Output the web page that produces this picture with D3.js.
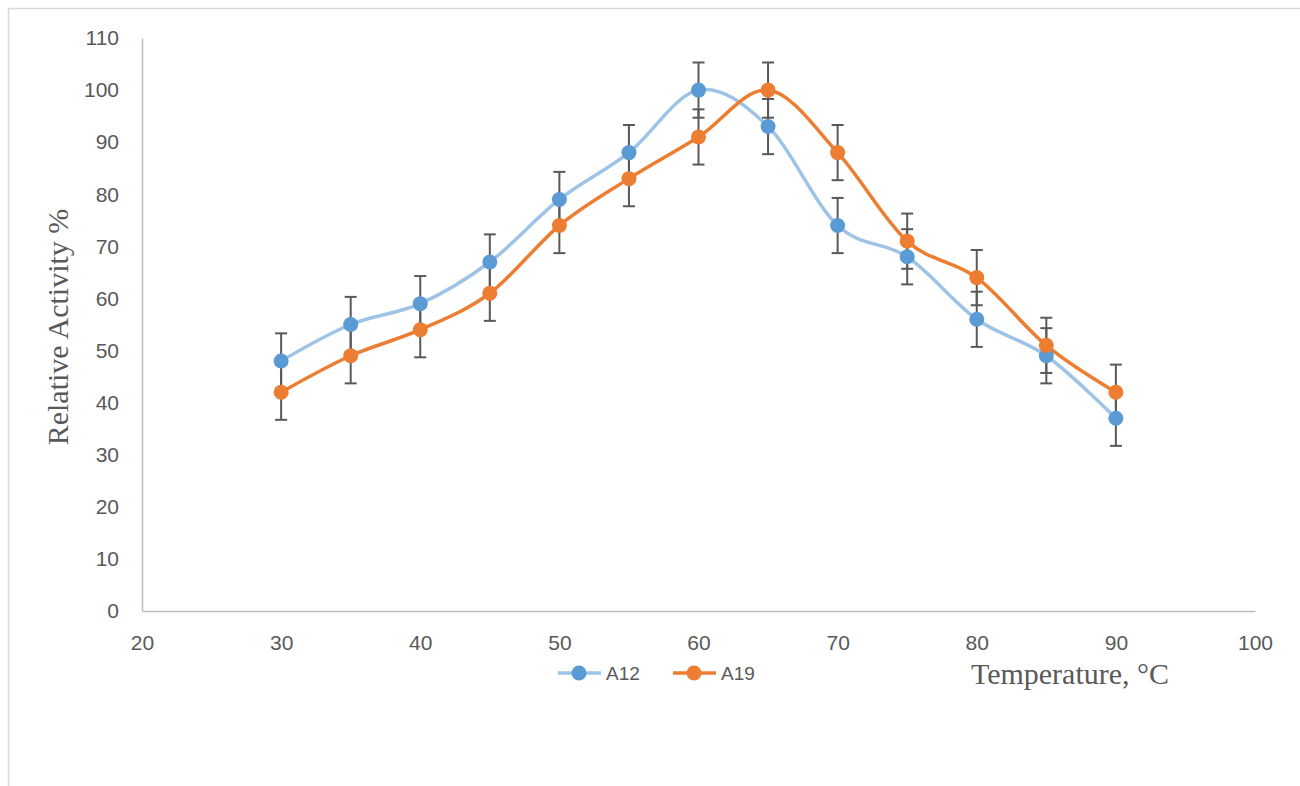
<!DOCTYPE html>
<html>
<head>
<meta charset="utf-8">
<script src="https://cdn.jsdelivr.net/npm/d3@7"></script>
<style>
  body { margin: 0; background: #fff; }
  svg { display: block; }
</style>
</head>
<body>
<div id="chart"></div>
<script>
// chart data
var temps = [30, 35, 40, 45, 50, 55, 60, 65, 70, 75, 80, 85, 90];
var a12 = [48, 55, 59, 67, 79, 88, 100, 93, 74, 68, 56, 49, 37];
var a19 = [42, 49, 54, 61, 74, 83, 91, 100, 88, 71, 64, 51, 42];
var errA12 = [5.3, 5.3, 5.3, 5.3, 5.3, 5.3, 5.3, 5.3, 5.3, 5.3, 5.3, 5.3, 5.3];
var errA19 = [5.3, 5.3, 5.3, 5.3, 5.3, 5.3, 5.3, 5.3, 5.3, 5.3, 5.3, 5.3, 5.3];
var xTicks = [20, 30, 40, 50, 60, 70, 80, 90, 100];
var yTicks = [0, 10, 20, 30, 40, 50, 60, 70, 80, 90, 100, 110];

var svgWidth = 1300;
var svgHeight = 786;

var margin = { top: 38, right: 45, bottom: 175, left: 142 };
var width = svgWidth - margin.left - margin.right;
var height = svgHeight - margin.top - margin.bottom;

var svg = d3.select("#chart")
  .append("svg")
  .attr("width", svgWidth)
  .attr("height", svgHeight);

// outer frame (only top and left edges visible)
svg.append("path")
  .attr("d", "M8.5,786 V8.5 H1300")
  .attr("fill", "none")
  .attr("stroke", "#d9d9d9")
  .attr("stroke-width", 1.5);

var chartGroup = svg.append("g")
  .attr("transform", `translate(${margin.left}, ${margin.top})`);

var xScale = d3.scaleLinear().domain([20, 100]).range([0, width]);
var yScale = d3.scaleLinear().domain([0, 110]).range([height, 0]);

var tickFont = "'Liberation Sans', Arial, sans-serif";

// axes
var bottomAxis = d3.axisBottom(xScale).tickValues(xTicks).tickSize(0).tickPadding(24);
var leftAxis = d3.axisLeft(yScale).tickValues(yTicks).tickSize(0).tickPadding(23);

var xAxis = chartGroup.append("g")
  .attr("transform", `translate(0, ${height})`)
  .call(bottomAxis);

var yAxis = chartGroup.append("g")
  .call(leftAxis);

[xAxis, yAxis].forEach(function(ax) {
  ax.select(".domain").attr("stroke", "#bfbfbf").attr("stroke-width", 1.5);
  ax.selectAll("text")
    .attr("fill", "#595959")
    .style("font-family", tickFont)
    .style("font-size", "21px");
});

var line = d3.line()
  .x(d => xScale(d.t))
  .y(d => yScale(d.v))
  .curve(d3.curveCatmullRom.alpha(0));

var series = [
  { name: "A12", values: a12, err: errA12, line: "#9dc3e6", marker: "#5b9bd5" },
  { name: "A19", values: a19, err: errA19, line: "#ed7d31", marker: "#ed7d31" }
];

series.forEach(function(s) {
  s.points = temps.map((t, i) => ({ t: t, v: s.values[i], e: s.err[i] }));
});

// lines
series.forEach(function(s) {
  chartGroup.append("path")
    .datum(s.points)
    .attr("fill", "none")
    .attr("stroke", s.line)
    .attr("stroke-width", 3.5)
    .attr("d", line);
});

// error bars
series.forEach(function(s) {
  var eb = chartGroup.append("g")
    .attr("stroke", "#595959")
    .attr("stroke-width", 2);
  eb.selectAll("line.v")
    .data(s.points)
    .enter()
    .append("line")
    .attr("x1", d => xScale(d.t))
    .attr("x2", d => xScale(d.t))
    .attr("y1", d => yScale(d.v - d.e))
    .attr("y2", d => yScale(d.v + d.e));
  eb.selectAll("line.top")
    .data(s.points)
    .enter()
    .append("line")
    .attr("x1", d => xScale(d.t) - 6)
    .attr("x2", d => xScale(d.t) + 6)
    .attr("y1", d => yScale(d.v + d.e))
    .attr("y2", d => yScale(d.v + d.e));
  eb.selectAll("line.bot")
    .data(s.points)
    .enter()
    .append("line")
    .attr("x1", d => xScale(d.t) - 6)
    .attr("x2", d => xScale(d.t) + 6)
    .attr("y1", d => yScale(d.v - d.e))
    .attr("y2", d => yScale(d.v - d.e));
});

// markers
series.forEach(function(s) {
  chartGroup.append("g")
    .selectAll("circle")
    .data(s.points)
    .enter()
    .append("circle")
    .attr("cx", d => xScale(d.t))
    .attr("cy", d => yScale(d.v))
    .attr("r", 7.5)
    .attr("fill", s.marker);
});

// axis titles
var titleFont = "'Liberation Serif', 'Times New Roman', serif";

svg.append("text")
  .attr("transform", "translate(68, 327) rotate(-90)")
  .attr("text-anchor", "middle")
  .attr("fill", "#595959")
  .style("font-family", titleFont)
  .style("font-size", "30px")
  .text("Relative Activity %");

svg.append("text")
  .attr("x", 1070)
  .attr("y", 684)
  .attr("text-anchor", "middle")
  .attr("fill", "#595959")
  .style("font-family", titleFont)
  .style("font-size", "30px")
  .text("Temperature, °C");

// legend
var legend = svg.append("g").attr("transform", "translate(558, 673)");
series.forEach(function(s, i) {
  var g = legend.append("g").attr("transform", `translate(${i * 115}, 0)`);
  g.append("line")
    .attr("x1", 0).attr("x2", 43)
    .attr("y1", 0).attr("y2", 0)
    .attr("stroke", s.line)
    .attr("stroke-width", 3.5);
  g.append("circle")
    .attr("cx", 21).attr("cy", 0)
    .attr("r", 7.5)
    .attr("fill", s.marker);
  g.append("text")
    .attr("x", 48)
    .attr("y", 7)
    .attr("fill", "#595959")
    .style("font-family", tickFont)
    .style("font-size", "19px")
    .text(s.name);
});
</script>
</body>
</html>
